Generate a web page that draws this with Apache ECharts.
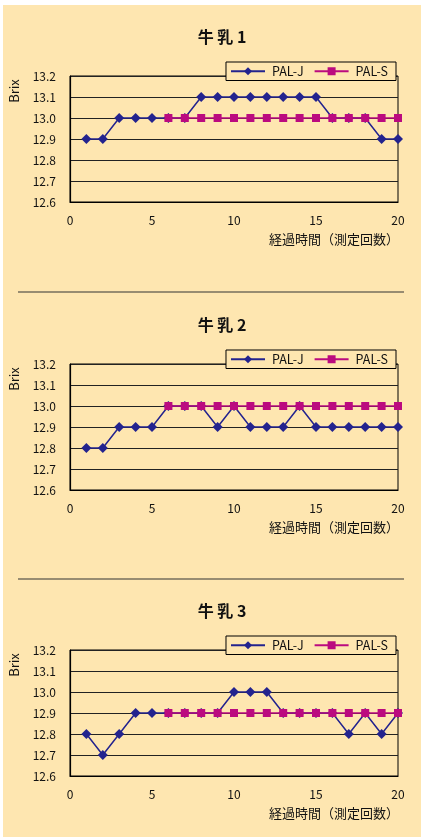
<!DOCTYPE html>
<html><head><meta charset="utf-8">
<script src="https://cdn.jsdelivr.net/npm/echarts@6/dist/echarts.min.js"></script>
<style>
html,body{margin:0;padding:0;background:#fff;}
#c{position:absolute;left:3px;top:5px;width:418px;height:832px;background:#FEE6B0;}
</style></head><body>
<div id="c"></div>
<script>
const titles = ['牛 乳 1', '牛 乳 2', '牛 乳 3'];
const seriesNames = ['PAL-J', 'PAL-S'];
const xTickLabels = [0, 5, 10, 15, 20];
const xJ = [1,2,3,4,5,6,7,8,9,10,11,12,13,14,15,16,17,18,19,20];
const xS = [6,7,8,9,10,11,12,13,14,15,16,17,18,19,20];
const milk1J = [12.9,12.9,13.0,13.0,13.0,13.0,13.0,13.1,13.1,13.1,13.1,13.1,13.1,13.1,13.1,13.0,13.0,13.0,12.9,12.9];
const milk1S = [13.0,13.0,13.0,13.0,13.0,13.0,13.0,13.0,13.0,13.0,13.0,13.0,13.0,13.0,13.0];
const milk2J = [12.8,12.8,12.9,12.9,12.9,13.0,13.0,13.0,12.9,13.0,12.9,12.9,12.9,13.0,12.9,12.9,12.9,12.9,12.9,12.9];
const milk2S = [13.0,13.0,13.0,13.0,13.0,13.0,13.0,13.0,13.0,13.0,13.0,13.0,13.0,13.0,13.0];
const milk3J = [12.8,12.7,12.8,12.9,12.9,12.9,12.9,12.9,12.9,13.0,13.0,13.0,12.9,12.9,12.9,12.9,12.8,12.9,12.8,12.9];
const milk3S = [12.9,12.9,12.9,12.9,12.9,12.9,12.9,12.9,12.9,12.9,12.9,12.9,12.9,12.9,12.9];
const xAxisName = '経過時間（測定回数）';
const yAxisName = 'Brix';

const dataJ = [milk1J, milk2J, milk3J];
const dataS = [milk1S, milk2S, milk3S];
const colorJ = '#23238E';
const colorS = '#BB0A7F';
const font = '"Noto Sans CJK JP", "Noto Sans", sans-serif';
const ox = 3, oy = 5;
const plotTops = [76, 364, 650];
const plotH = 126;
const plotL = 70, plotR = 398;

const chart = echarts.init(document.getElementById('c'));
const grid = [], xAxis = [], yAxis = [], series = [], title = [], legend = [], graphic = [];
for (let i = 0; i < 3; i++) {
  const top = plotTops[i] - oy;
  grid.push({left: plotL - ox, width: plotR - plotL, top: top, height: plotH,
    show: true, borderColor: '#000', borderWidth: 1, backgroundColor: 'transparent', containLabel: false});
  xAxis.push({type: 'value', gridIndex: i, min: 0, max: 20, interval: 5,
    axisLine: {show: true, lineStyle: {color: '#000', width: 1.2}},
    axisTick: {show: false}, splitLine: {show: false},
    axisLabel: {color: '#111', fontSize: 12, fontFamily: font, margin: 12,
      formatter: v => xTickLabels.includes(v) ? String(v) : ''}});
  yAxis.push({type: 'value', gridIndex: i, min: 12.6, max: 13.2, interval: 0.1,
    axisLine: {show: true, lineStyle: {color: '#000', width: 1.2}},
    axisTick: {show: false},
    splitLine: {show: true, lineStyle: {color: '#222', width: 1}},
    axisLabel: {color: '#111', fontSize: 12, fontFamily: font, margin: 14,
      formatter: v => v.toFixed(1)}});
  series.push({name: seriesNames[0], type: 'line', xAxisIndex: i, yAxisIndex: i,
    data: xJ.map((x, k) => [x, dataJ[i][k]]),
    symbol: 'diamond', symbolSize: 10, color: colorJ,
    lineStyle: {color: colorJ, width: 1.5}, itemStyle: {color: colorJ}, z: 3});
  series.push({name: seriesNames[1], type: 'line', xAxisIndex: i, yAxisIndex: i,
    data: xS.map((x, k) => [x, dataS[i][k]]),
    symbol: 'rect', symbolSize: 8, color: colorS,
    lineStyle: {color: colorS, width: 1.5}, itemStyle: {color: colorS}, z: 4});
  title.push({text: titles[i], left: 217 - ox, textAlign: 'center', top: plotTops[i] - 52 - oy,
    textStyle: {fontSize: 16, fontWeight: 'bold', color: '#111', fontFamily: font}});
  legend.push({data: seriesNames, right: 421 - 396, top: plotTops[i] - 14 - oy,
    orient: 'horizontal', backgroundColor: '#FEE6B0', borderColor: '#000', borderWidth: 1,
    padding: [3, 8, 3, 4], itemWidth: 34, itemHeight: 10, itemGap: 10,
    textStyle: {fontSize: 12.5, color: '#111', fontFamily: font, padding: [0, 0, 0, 2]}, selectedMode: false, z: 10});
  graphic.push({type: 'text', right: 421 - 399, top: plotTops[i] + 157 - oy,
    style: {text: xAxisName, fontSize: 13, fill: '#111', fontFamily: font}});
  graphic.push({type: 'text', x: 14 - ox, y: plotTops[i] + 15 - oy, rotation: Math.PI / 2,
    style: {text: yAxisName, fontSize: 13, fill: '#111', fontFamily: font, align: 'center', verticalAlign: 'middle'}});
}
[292, 579].forEach(y => {
  graphic.push({type: 'line', shape: {x1: 18 - ox, y1: y - oy, x2: 404 - ox, y2: y - oy},
    style: {stroke: '#333', lineWidth: 1}});
});
chart.setOption({animation: false, backgroundColor: '#FEE6B0', title, legend, grid, xAxis, yAxis, series, graphic});
</script>
</body></html>
